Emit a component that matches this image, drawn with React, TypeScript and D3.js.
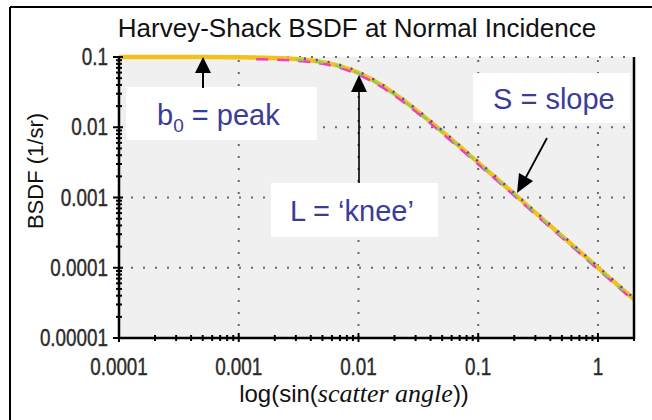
import * as d3 from "d3";

// Tick labels
const xTicks = [0.0001, 0.001, 0.01, 0.1, 1];
const xTickLabels = ["0.0001", "0.001", "0.01", "0.1", "1"];
const yTicks = [0.1, 0.01, 0.001, 0.0001, 0.00001];
const yTickLabels = ["0.1", "0.01", "0.001", "0.0001", "0.00001"];

// Curves (sin(angle), BSDF)
const yellowX = [0.0001, 0.0005, 0.001, 0.002, 0.003, 0.005, 0.007, 0.01, 0.015, 0.02, 0.03, 0.05, 0.07, 0.1, 0.15, 0.2, 0.3, 0.5, 0.7, 1, 1.5, 2];
const yellowY = [0.1, 0.0998, 0.0993, 0.0971, 0.0937, 0.0846, 0.0741, 0.0595, 0.0413, 0.0299, 0.0178, 0.00868, 0.00532, 0.00314, 0.00172, 0.00112, 0.000608, 0.000283, 0.000171, 0.0001, 0.0000545, 0.0000354];

const magentaX = [0.0014, 0.002, 0.003, 0.005, 0.007, 0.01, 0.015, 0.02, 0.03, 0.05, 0.07, 0.1, 0.15, 0.2, 0.3, 0.5, 0.7, 1, 1.5, 2];
const magentaY = [0.093, 0.0918, 0.0885, 0.08, 0.07, 0.056, 0.039, 0.0283, 0.0168, 0.0082, 0.00503, 0.00297, 0.00163, 0.00106, 0.000576, 0.000268, 0.000162, 0.0000948, 0.0000517, 0.0000336];

const greenX = [0.003, 0.005, 0.007, 0.01, 0.015, 0.02, 0.03, 0.05, 0.07, 0.1, 0.15, 0.2, 0.3, 0.5, 0.7, 1, 1.5, 2];
const greenY = [0.0918, 0.0829, 0.0726, 0.0583, 0.0405, 0.0293, 0.0174, 0.0085, 0.00521, 0.00308, 0.00169, 0.0011, 0.000596, 0.000277, 0.000168, 0.000098, 0.0000534, 0.0000347];

const blueX = [0.0035, 0.005, 0.007, 0.01, 0.015, 0.02, 0.03, 0.05, 0.07, 0.1, 0.15, 0.2, 0.3, 0.5, 0.7, 1, 1.5, 2];
const blueY = [0.0954, 0.088, 0.0771, 0.0619, 0.043, 0.0311, 0.0185, 0.00903, 0.00553, 0.00327, 0.00179, 0.00116, 0.000632, 0.000294, 0.000178, 0.000104, 0.0000567, 0.0000368];

const SANS = "'Liberation Sans', Arial, sans-serif";
const SERIF = "'Liberation Serif', 'Times New Roman', serif";
const BLUE_TEXT = "#3b3b98";

export default function App() {
  const W = 652;
  const H = 420;
  const left = 119;
  const right = 634;
  const top = 57;
  const bottom = 338;

  const x = d3.scaleLog().domain([0.0001, 2]).range([left, right]);
  const y = d3.scaleLog().domain([0.00001, 0.1]).range([bottom, top]);

  const toPts = (xs: number[], ys: number[]) => xs.map((v, i) => [v, ys[i]] as [number, number]);
  const line = d3
    .line<[number, number]>()
    .x((d) => x(d[0]))
    .y((d) => y(d[1]))
    .curve(d3.curveMonotoneX);

  const minorX: number[] = [];
  [0.0001, 0.001, 0.01, 0.1, 1].forEach((dec) => {
    for (let k = 2; k <= 9; k++) if (k * dec <= 2) minorX.push(k * dec);
  });
  const minorY: number[] = [];
  [0.00001, 0.0001, 0.001, 0.01].forEach((dec) => {
    for (let k = 2; k <= 9; k++) minorY.push(k * dec);
  });

  const grid = { stroke: "#6a6a6a", strokeWidth: 2, strokeDasharray: "2,10" };

  return (
    <svg
      width={W}
      height={H}
      style={{ position: "fixed", left: 0, top: 0, display: "block", background: "#fff" }}
    >
      <defs>
        <clipPath id="plotClip">
          <rect x={left} y={top - 4} width={right - left} height={bottom - top + 4} />
        </clipPath>
      </defs>

      {/* outer frame */}
      <line x1={10} x2={W} y1={7} y2={7} stroke="#000" strokeWidth={2} />
      <line x1={10} x2={10} y1={7} y2={H} stroke="#000" strokeWidth={2} />

      {/* plot background */}
      <rect x={left} y={top} width={right - left} height={bottom - top} fill="#f0f0f0" />

      {/* dotted grid */}
      {xTicks.slice(1).map((t) => (
        <line key={"gx" + t} x1={x(t)} x2={x(t)} y1={bottom} y2={top} {...grid} />
      ))}
      {yTicks.slice(0, 4).map((t) => (
        <line key={"gy" + t} x1={left} x2={right} y1={y(t)} y2={y(t)} {...grid} />
      ))}

      {/* title */}
      <text x={357} y={37} textAnchor="middle" fontFamily={SANS} fontSize={26} fill="#111">
        Harvey-Shack BSDF at Normal Incidence
      </text>

      {/* annotation boxes */}
      <rect x={126} y={87} width={191} height={53} fill="#fff" />
      <text x={157} y={125} fontFamily={SANS} fontSize={29} fill={BLUE_TEXT}>
        b<tspan fontSize={19} dy={7}>0</tspan>
        <tspan dy={-7}> = peak</tspan>
      </text>

      <rect x={271} y={183} width={167} height={54} fill="#fff" />
      <text x={290} y={221} fontFamily={SANS} fontSize={29} fill={BLUE_TEXT}>
        L = ‘knee’
      </text>

      <rect x={473} y={73} width={157} height={50} fill="#fff" />
      <text x={493} y={109} fontFamily={SANS} fontSize={29} fill={BLUE_TEXT}>
        S = slope
      </text>

      {/* curves */}
      <g clipPath="url(#plotClip)" fill="none">
        <path d={line(toPts(yellowX, yellowY)) ?? ""} stroke="#f2c21b" strokeWidth={4.5} />
        <path d={line(toPts(magentaX, magentaY)) ?? ""} stroke="#ee3fc0" strokeWidth={2.5} strokeDasharray="12,9" />
        <path d={line(toPts(greenX, greenY)) ?? ""} stroke="#7fcf6a" strokeWidth={2} strokeDasharray="8,12" />
        <path d={line(toPts(blueX, blueY)) ?? ""} stroke="#4a4ab0" strokeWidth={2.5} strokeDasharray="2,10" />
      </g>

      {/* arrows */}
      <g stroke="#000" strokeWidth={2} fill="#000">
        <line x1={203} x2={203} y1={88} y2={68} />
        <path d="M203,57 L195,73 L211,73 Z" stroke="none" />
        <line x1={359} x2={359} y1={183} y2={88} strokeWidth={1.6} />
        <path d="M359,75 L351,92 L367,92 Z" stroke="none" />
        <line x1={547} x2={525} y1={138} y2={179} strokeWidth={1.8} />
        <path d="M517,193 L519,173 L533,181 Z" stroke="none" />
      </g>

      {/* axes */}
      <g stroke="#000">
        <line x1={left} x2={left} y1={top} y2={bottom} strokeWidth={2.5} />
        <line x1={left} x2={right} y1={bottom} y2={bottom} strokeWidth={2.5} />
        <line x1={right} x2={right} y1={top} y2={bottom + 1} strokeWidth={2.5} />
        {yTicks.map((t) => (
          <line key={"yt" + t} x1={left - 6} x2={left + 4} y1={y(t)} y2={y(t)} strokeWidth={2} />
        ))}
        {minorY.map((t) => (
          <line key={"ym" + t} x1={left - 3} x2={left + 3} y1={y(t)} y2={y(t)} strokeWidth={2} />
        ))}
        {xTicks.map((t) => (
          <line key={"xt" + t} x1={x(t)} x2={x(t)} y1={bottom - 5} y2={bottom + 4} strokeWidth={2} />
        ))}
        {minorX.map((t) => (
          <line key={"xm" + t} x1={x(t)} x2={x(t)} y1={bottom - 3} y2={bottom + 3} strokeWidth={2} />
        ))}
      </g>

      {/* tick labels */}
      {yTicks.map((t, i) => (
        <text
          key={"yl" + t}
          transform={`translate(108,${y(t)}) scale(0.82,1)`}
          textAnchor="end"
          dominantBaseline="central"
          fontFamily={SANS}
          fontSize={23}
          fill="#2b2b2b"
          stroke="#2b2b2b"
          strokeWidth={0.4}
        >
          {yTickLabels[i]}
        </text>
      ))}
      {xTicks.map((t, i) => (
        <text
          key={"xl" + t}
          transform={`translate(${x(t)},375) scale(0.82,1)`}
          textAnchor="middle"
          fontFamily={SANS}
          fontSize={23}
          fill="#2b2b2b"
          stroke="#2b2b2b"
          strokeWidth={0.4}
        >
          {xTickLabels[i]}
        </text>
      ))}

      {/* axis titles */}
      <text
        transform="translate(43,171) rotate(-90)"
        textAnchor="middle"
        fontFamily={SANS}
        fontSize={22}
        fill="#111"
      >
        BSDF (1/sr)
      </text>
      <text x={354} y={402} textAnchor="middle" fontFamily={SANS} fontSize={24} fill="#111">
        log(sin(
        <tspan fontFamily={SERIF} fontStyle="italic" fontSize={26}>
          scatter angle
        </tspan>
        ))
      </text>
    </svg>
  );
}
